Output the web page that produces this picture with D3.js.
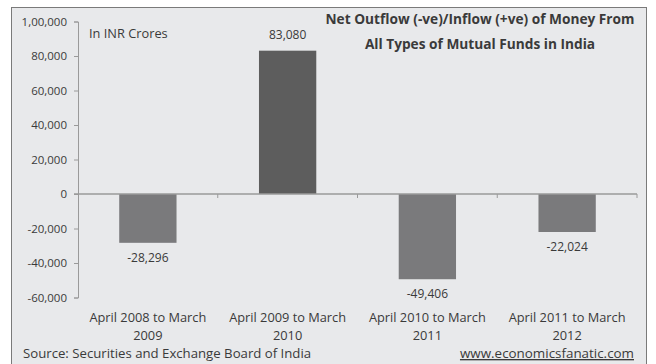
<!DOCTYPE html>
<html lang="en">
<head>
<meta charset="UTF-8">
<title>Net Outflow/Inflow of Mutual Funds in India</title>
<script src="https://d3js.org/d3.v7.min.js"></script>
<style>
    body { margin: 0; background: #ffffff; }
    svg text { font-family: "Open Sans", "Noto Sans", sans-serif; fill: #3a3a3a; }
</style>
</head>
<body>
<svg id="chart" width="656" height="364"></svg>
<script>
// data
const periods = [
    ["April 2008 to March", "2009"],
    ["April 2009 to March", "2010"],
    ["April 2010 to March", "2011"],
    ["April 2011 to March", "2012"]
];
const flows = [-28296, 83080, -49406, -22024];
const yTicks = [-60000, -40000, -20000, 0, 20000, 40000, 60000, 80000, 100000];
const titleLines = ["Net Outflow (-ve)/Inflow (+ve) of Money From", "All Types of Mutual Funds in India"];

const svg = d3.select('#chart');

// panel
svg.append('rect')
    .attr('x', 11.5).attr('y', 7.5)
    .attr('width', 635).attr('height', 370)
    .attr('fill', '#e8e9eb')
    .attr('stroke', '#7a7a7a');

const margin = {left: 78, right: 637, top: 21.5, bottom: 297.5};

const x = d3.scaleBand()
    .domain(d3.range(flows.length))
    .range([margin.left, margin.right])
    .paddingInner(0.59)
    .paddingOuter(0.295);

const y = d3.scaleLinear()
    .domain([-60000, 100000])
    .range([margin.bottom, margin.top]);

// indian style grouping: 1,00,000
function inr(v) {
    const s = Math.abs(v).toString();
    let out;
    if (s.length <= 3) out = s;
    else {
        const last3 = s.slice(-3);
        let rest = s.slice(0, -3);
        rest = rest.replace(/\B(?=(\d{2})+(?!\d))/g, ',');
        out = rest + ',' + last3;
    }
    return (v < 0 ? '-' : '') + out;
}

// y axis
const yAxis = svg.append('g')
    .attr('transform', `translate(${margin.left},0)`)
    .call(d3.axisLeft(y).tickValues(yTicks).tickFormat(inr).tickSize(4).tickPadding(7));
yAxis.select('.domain').attr('stroke', '#9a9a9a');
yAxis.selectAll('.tick line').attr('stroke', '#9a9a9a');
yAxis.selectAll('.tick text')
    .attr('font-size', 11.5)
    .attr('fill', '#3a3a3a')
    .attr('font-family', '"Open Sans", sans-serif');

// bars
svg.append('g').selectAll('rect')
    .data(flows)
    .join('rect')
    .attr('x', (d, i) => x(i))
    .attr('width', x.bandwidth())
    .attr('y', d => y(Math.max(0, d)))
    .attr('height', d => Math.abs(y(d) - y(0)))
    .attr('fill', d => d > 0 ? '#5d5d5d' : '#7a7a7c');

// zero line with category ticks
const step = x.step();
const zeroAxis = svg.append('g')
    .attr('transform', `translate(0,${y(0)})`);
zeroAxis.append('line')
    .attr('x1', margin.left - 4).attr('x2', margin.right)
    .attr('stroke', '#9a9a9a').attr('stroke-width', 1.3);
zeroAxis.selectAll('line.cat')
    .data(d3.range(1, flows.length + 1))
    .join('line')
    .attr('class', 'cat')
    .attr('x1', i => margin.left + i * step)
    .attr('x2', i => margin.left + i * step)
    .attr('y1', 0).attr('y2', 4)
    .attr('stroke', '#9a9a9a');

// value labels
svg.append('g').selectAll('text')
    .data(flows)
    .join('text')
    .attr('x', (d, i) => x(i) + x.bandwidth() / 2)
    .attr('y', d => d > 0 ? y(d) - 12 : y(d) + 19)
    .attr('text-anchor', 'middle')
    .attr('font-size', 12)
    .text(d => inr(d));

// category labels
const cats = svg.append('g').selectAll('text')
    .data(periods)
    .join('text')
    .attr('text-anchor', 'middle')
    .attr('font-size', 12.8)
    .attr('y', 321.5);
cats.selectAll('tspan')
    .data((d, i) => d.map(t => ({t, i})))
    .join('tspan')
    .attr('x', d => x(d.i) + x.bandwidth() / 2)
    .attr('dy', (d, j) => j === 0 ? 0 : 18)
    .text(d => d.t);

// title
svg.append('g').selectAll('text')
    .data(titleLines)
    .join('text')
    .attr('x', 480)
    .attr('y', (d, i) => 24 + i * 24.5)
    .attr('text-anchor', 'middle')
    .attr('font-size', 13.7)
    .attr('font-weight', 'bold')
    .attr('fill', '#333')
    .text(d => d);

svg.append('text')
    .attr('x', 89).attr('y', 38)
    .attr('font-size', 12.8)
    .text('In INR Crores');

// footer
svg.append('text')
    .attr('x', 23).attr('y', 358)
    .attr('font-size', 13.2)
    .text('Source: Securities and Exchange Board of India');

svg.append('text')
    .attr('x', 634).attr('y', 358)
    .attr('text-anchor', 'end')
    .attr('font-size', 13.4)
    .attr('text-decoration', 'underline')
    .text('www.economicsfanatic.com');
</script>
</body>
</html>
